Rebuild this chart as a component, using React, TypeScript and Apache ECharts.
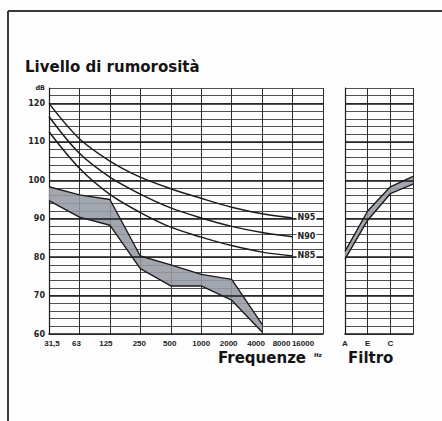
import React, { useEffect, useRef } from "react";
import * as echarts from "echarts";

const freqLabels = ["31,5", "63", "125", "250", "500", "1000", "2000", "4000", "8000", "16000"];
const filterLabels = ["A", "E", "C", ""];

const n95 = [120, 110.8, 105, 100.8, 97.8, 95.3, 93, 91.3, 90.2];
const n90 = [116.6, 107, 100.8, 96.4, 92.8, 90.2, 88, 86.4, 85.3];
const n85 = [112.6, 103.1, 96.3, 91.6, 87.8, 85.2, 83, 81.3, 80.3];

const bandUpper = [98.3, 96.2, 95, 80.3, 78, 75.5, 74.2, 62.5];
const bandLower = [94.7, 90.4, 88.3, 77, 72.5, 72.5, 68.8, 60.5];

const filterUpper = [81.5, 92, 98.3, 101];
const filterLower = [79.5, 89.6, 96.5, 99];

const boldLevels = [70, 80, 90, 100, 110, 120];

const INK = "#1c1c1c";
const FILL = "#959aa3";

export default function App() {
  const ref = useRef<HTMLDivElement>(null);

  useEffect(() => {
    if (!ref.current) return;
    const chart = echarts.init(ref.current, null, { renderer: "svg" });

    // horizontal nudges of the printed frequency labels (px, + = right)
    const labelNudge = [3, -3, -4, -1, -1, 0, -3, -6, -11, -20];
    const labelFont = {
      fontFamily: "Liberation Sans",
      fontWeight: "bold",
      fontSize: 8,
      color: "#222",
    };
    const freqRich: Record<string, any> = {};
    labelNudge.forEach((s, i) => {
      freqRich["s" + i] = {
        ...labelFont,
        padding: s >= 0 ? [0, 0, 0, 2 * s] : [0, -2 * s, 0, 0],
      };
    });

    const yBase = (gridIndex: number, labels: boolean) => ({
      type: "value",
      gridIndex,
      min: 60,
      max: 124,
      interval: 2,
      axisLine: { show: true, lineStyle: { color: INK, width: 1.2 } },
      axisTick: { show: false },
      splitLine: { show: true, lineStyle: { color: "#3c3c3c", width: 0.9 } },
      axisLabel: labels
        ? {
            show: true,
            margin: 4,
            fontFamily: "DejaVu Sans",
            fontWeight: "bold",
            fontSize: 8,
            color: "#222",
            formatter: (v: number) =>
              v === 124 ? "{u|dB}" : v % 10 === 0 ? String(v) : "",
            rich: {
              u: { fontFamily: "DejaVu Sans", fontWeight: "bold", fontSize: 6.5, color: "#222" },
            },
          }
        : { show: false },
    });

    const xBase = (gridIndex: number, data: string[]) => ({
      type: "category",
      gridIndex,
      data,
      boundaryGap: false,
      axisLine: { show: true, lineStyle: { color: INK, width: 1.6 } },
      axisTick: { show: false },
      splitLine: { show: true, interval: 0, lineStyle: { color: "#2e2e2e", width: 1 } },
      axisLabel:
        gridIndex === 0
          ? {
              interval: 0,
              margin: 5,
              ...labelFont,
              formatter: (v: string, i: number) => `{s${i}|${v}}`,
              rich: freqRich,
            }
          : { interval: 0, margin: 5, ...labelFont },
    });

    const diff = (u: number[], l: number[]) => u.map((v, i) => +(v - l[i]).toFixed(2));

    const nrSeries = (name: string, data: number[]) => ({
      type: "line",
      name,
      xAxisIndex: 0,
      yAxisIndex: 0,
      data,
      smooth: 0.35,
      symbol: "none",
      lineStyle: { color: INK, width: 1.5 },
      z: 5,
      endLabel: {
        show: true,
        formatter: name,
        distance: 4,
        fontFamily: "DejaVu Sans",
        fontWeight: "bold",
        fontSize: 8,
        color: "#222",
        backgroundColor: "#fff",
        padding: [0, 1],
      },
    });

    const edge = (data: number[], xi: number) => ({
      type: "line",
      xAxisIndex: xi,
      yAxisIndex: xi,
      data,
      symbol: "none",
      lineStyle: { color: INK, width: 1.4 },
      z: 4,
    });

    const boldMarks = {
      silent: true,
      symbol: ["none", "none"],
      label: { show: false },
      lineStyle: { color: INK, width: 1.6, type: "solid" },
      data: boldLevels.map((v) => ({ yAxis: v })),
    };

    chart.setOption({
      animation: false,
      backgroundColor: "#fdfdfd",
      grid: [
        { left: 49, top: 88, width: 274, height: 246 },
        { left: 345, top: 88, width: 68, height: 246 },
      ],
      xAxis: [xBase(0, freqLabels), xBase(1, filterLabels)],
      yAxis: [yBase(0, true), yBase(1, false)],
      series: [
        {
          type: "line",
          xAxisIndex: 0,
          yAxisIndex: 0,
          data: bandLower,
          stack: "band",
          symbol: "none",
          lineStyle: { opacity: 0 },
          z: 2,
          markLine: boldMarks,
        },
        {
          type: "line",
          xAxisIndex: 0,
          yAxisIndex: 0,
          data: diff(bandUpper, bandLower),
          stack: "band",
          symbol: "none",
          lineStyle: { opacity: 0 },
          areaStyle: { color: FILL, opacity: 0.88 },
          z: 3,
        },
        edge(bandUpper, 0),
        edge(bandLower, 0),
        {
          type: "line",
          xAxisIndex: 1,
          yAxisIndex: 1,
          data: filterLower,
          stack: "filter",
          symbol: "none",
          lineStyle: { opacity: 0 },
          z: 2,
          markLine: boldMarks,
        },
        {
          type: "line",
          xAxisIndex: 1,
          yAxisIndex: 1,
          data: diff(filterUpper, filterLower),
          stack: "filter",
          symbol: "none",
          lineStyle: { opacity: 0 },
          areaStyle: { color: FILL, opacity: 0.88 },
          z: 3,
        },
        edge(filterUpper, 1),
        edge(filterLower, 1),
        nrSeries("N95", n95),
        nrSeries("N90", n90),
        nrSeries("N85", n85),
      ],
      graphic: [
        { type: "line", shape: { x1: 8, y1: 11, x2: 8, y2: 421 }, style: { stroke: "#3a3a3a", lineWidth: 2 } },
        { type: "line", shape: { x1: 8, y1: 11, x2: 442, y2: 11 }, style: { stroke: "#3a3a3a", lineWidth: 2 } },
        {
          type: "text",
          left: 25,
          top: 59,
          style: { text: "Livello di rumorosità", fontFamily: "DejaVu Sans", fontWeight: "bold", fontSize: 15, fill: "#141414" },
        },
        {
          type: "text",
          left: 218,
          top: 350,
          style: { text: "Frequenze", fontFamily: "DejaVu Sans", fontWeight: "bold", fontSize: 15, fill: "#141414" },
        },
        {
          type: "text",
          left: 314,
          top: 352,
          style: { text: "Hz", fontFamily: "DejaVu Sans", fontWeight: "bold", fontSize: 5.5, fill: "#141414" },
        },
        {
          type: "text",
          left: 348,
          top: 350,
          style: { text: "Filtro", fontFamily: "DejaVu Sans", fontWeight: "bold", fontSize: 15, fill: "#141414" },
        },
      ],
    });

    return () => chart.dispose();
  }, []);

  return (
    <div
      ref={ref}
      style={{ position: "fixed", left: 0, top: 0, width: 442, height: 421 }}
    />
  );
}
